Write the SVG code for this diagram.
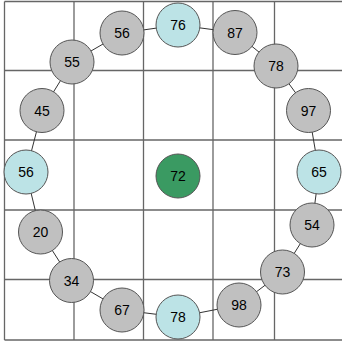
<svg xmlns="http://www.w3.org/2000/svg" width="342" height="343" viewBox="0 0 342 343">
<style>
.grid line{stroke:#666;stroke-width:1.3}
.edges line{stroke:#333;stroke-width:1}
circle{stroke:#555;stroke-width:1}
.g{fill:#c0c0c0}
.b{fill:#bce3e6}
.c{fill:#3a9a62}
text{font-family:"Liberation Sans",Arial,sans-serif;font-size:14px;fill:#000;text-anchor:middle;dominant-baseline:central}
</style>
<rect width="342" height="343" fill="#fff"/>
<g class="grid">
<line x1="4.5" y1="1.5" x2="342" y2="1.5"/>
<line x1="4.5" y1="70.5" x2="342" y2="70.5"/>
<line x1="4.5" y1="140" x2="342" y2="140"/>
<line x1="4.5" y1="210" x2="342" y2="210"/>
<line x1="4.5" y1="279.5" x2="342" y2="279.5"/>
<line x1="4.5" y1="340" x2="342" y2="340"/>
<line x1="4.5" y1="1.5" x2="4.5" y2="340"/>
<line x1="74" y1="1.5" x2="74" y2="340"/>
<line x1="143.5" y1="1.5" x2="143.5" y2="340"/>
<line x1="213" y1="1.5" x2="213" y2="340"/>
<line x1="274.5" y1="1.5" x2="274.5" y2="340"/>
</g>
<g class="edges">
<line x1="178" y1="25" x2="235" y2="32.5"/>
<line x1="235" y1="32.5" x2="276" y2="66"/>
<line x1="276" y1="66" x2="308.5" y2="110.5"/>
<line x1="308.5" y1="110.5" x2="319" y2="172"/>
<line x1="319" y1="172" x2="312" y2="225"/>
<line x1="312" y1="225" x2="282.5" y2="272"/>
<line x1="282.5" y1="272" x2="239" y2="305"/>
<line x1="239" y1="305" x2="178" y2="317"/>
<line x1="178" y1="317" x2="122" y2="310"/>
<line x1="122" y1="310" x2="71.5" y2="280.5"/>
<line x1="71.5" y1="280.5" x2="40.5" y2="232"/>
<line x1="40.5" y1="232" x2="26" y2="172"/>
<line x1="26" y1="172" x2="42" y2="110.5"/>
<line x1="42" y1="110.5" x2="72" y2="62"/>
<line x1="72" y1="62" x2="122" y2="33"/>
<line x1="122" y1="33" x2="178" y2="25"/>
</g>
<g id="n72"><circle class="c" cx="178" cy="176" r="22"/><text x="178" y="176">72</text></g>
<g id="n76"><circle class="b" cx="178" cy="25" r="22"/><text x="178" y="25">76</text></g>
<g id="n87"><circle class="g" cx="235" cy="32.5" r="22"/><text x="235" y="32.5">87</text></g>
<g id="n78a"><circle class="g" cx="276" cy="66" r="22"/><text x="276" y="66">78</text></g>
<g id="n97"><circle class="g" cx="308.5" cy="110.5" r="22"/><text x="308.5" y="110.5">97</text></g>
<g id="n65"><circle class="b" cx="319" cy="172" r="22"/><text x="319" y="172">65</text></g>
<g id="n54"><circle class="g" cx="312" cy="225" r="22"/><text x="312" y="225">54</text></g>
<g id="n73"><circle class="g" cx="282.5" cy="272" r="22"/><text x="282.5" y="272">73</text></g>
<g id="n98"><circle class="g" cx="239" cy="305" r="22"/><text x="239" y="305">98</text></g>
<g id="n78b"><circle class="b" cx="178" cy="317" r="22"/><text x="178" y="317">78</text></g>
<g id="n67"><circle class="g" cx="122" cy="310" r="22"/><text x="122" y="310">67</text></g>
<g id="n34"><circle class="g" cx="71.5" cy="280.5" r="22"/><text x="71.5" y="280.5">34</text></g>
<g id="n20"><circle class="g" cx="40.5" cy="232" r="22"/><text x="40.5" y="232">20</text></g>
<g id="n56a"><circle class="b" cx="26" cy="172" r="22"/><text x="26" y="172">56</text></g>
<g id="n45"><circle class="g" cx="42" cy="110.5" r="22"/><text x="42" y="110.5">45</text></g>
<g id="n55"><circle class="g" cx="72" cy="62" r="22"/><text x="72" y="62">55</text></g>
<g id="n56b"><circle class="g" cx="122" cy="33" r="22"/><text x="122" y="33">56</text></g>
</svg>
